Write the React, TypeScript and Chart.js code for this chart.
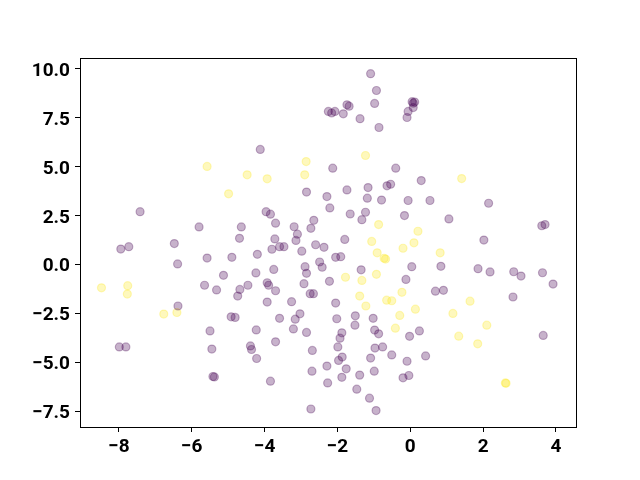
import React, { useEffect, useRef } from "react";
import { Chart, registerables } from "chart.js";

Chart.register(...registerables);

const purpleX = [
  -1.09, -0.93, -0.98, -1.74, -1.68, -2.25, -2.16, -2.07, -1.84, -1.38, -0.86,
  0.05, 0.12, 0.08, 0.08, -0.06, -0.09, -4.12, -2.13, -0.4, -2.85, -2.29,
  -1.74, -1.16, -1.18, -0.79, -0.64, -0.54, -0.06, 0.3, -2.21, -1.65, -1.23,
  -1.33, -0.16, -3.96, -3.84, -3.7, -3.19, -2.65, -2.73, -3.1, -3.72, -3.14,
  -1.8, 0.54, 2.15, 1.06, 3.61, 3.7, 2.02, -7.42, -5.8, -4.64, -4.69, -6.48,
  -7.73, -7.95, -6.39, -5.58, -4.9, -5.13, -5.65, -5.32, -4.68, -4.74, -4.46,
  -6.38, -4.92, -4.81, -5.5, -5.45, -7.99, -7.81, -5.42, -5.38, -4.39, -4.36,
  -2.6, -2.37, -3.8, -3.59, -3.47, -2.98, -4.2, -2.05, -1.91, 0.04, -2.89,
  -2.85, -2.49, -2.42, -3.75, -4.24, -1.35, -2.22, -0.12, -2.92, -3.93, -3.89,
  -3.7, -2.75, -2.66, -3.93, -3.26, -2.05, -3.03, -3.59, -3.16, -2.02, -1.51,
  -1.02, -1.52, -4.23, -3.21, -2.85, -1.88, -1.93, -0.98, -0.87, -0.02, 0.25,
  -3.7, -1.99, -0.97, -0.76, -2.69, -4.22, -1.87, -1.97, -1.09, -0.51, -0.09,
  -1.76, -2.29, -2.7, -0.99, -1.88, -1.39, -0.2, -0.04, -3.84, -2.27, -1.47,
  -1.12, -2.73, -0.94, 0.84, 1.86, 2.19, 2.84, 3.04, 3.63, 3.92, 0.69, 0.91,
  2.82, 3.65, 0.42,
];
const purpleY = [
  9.76, 8.9, 8.24, 8.17, 8.1, 7.83, 7.75, 7.83, 7.71, 7.46, 7.01,
  8.33, 8.31, 8.25, 8.03, 7.83, 7.52, 5.89, 4.93, 4.93, 3.71, 3.48,
  3.82, 3.94, 3.4, 3.3, 4.03, 4.11, 3.28, 4.3, 2.9, 2.59, 2.68,
  2.3, 2.51, 2.71, 2.58, 2.12, 1.94, 2.27, 1.86, 1.56, 1.32, 1.24,
  1.29, 3.28, 3.14, 2.34, 1.99, 2.05, 1.26, 2.71, 1.93, 1.93, 1.35, 1.08,
  0.92, 0.8, 0.04, 0.34, 0.38, -0.54, -1.05, -1.29, -1.26, -1.6, -1.05,
  -2.11, -2.66, -2.69, -3.38, -4.31, -4.2, -4.2, -5.71, -5.73, -4.15, -4.33,
  1.02, 0.89, 0.79, 0.92, 0.92, 0.69, 0.53, 0.38, 0.41, -0.1, -0.1,
  -0.44, 0.14, -0.13, -0.24, -0.42, -0.26, -0.85, -0.75, -0.97, -0.92, -1.05,
  -1.33, -1.48, -1.48, -1.91, -1.89, -1.96, -2.51, -2.74, -2.78, -2.76, -2.61,
  -2.74, -3.09, -3.33, -3.28, -3.46, -3.48, -3.75, -3.34, -3.53, -3.66, -3.38,
  -3.94, -4.2, -4.26, -4.2, -4.38, -4.79, -4.72, -4.89, -4.77, -4.61, -4.93,
  -5.32, -5.18, -5.44, -5.44, -5.75, -5.64, -5.78, -5.66, -5.95, -6.04, -6.36,
  -6.82, -7.37, -7.45, -0.08, -0.2, -0.37, -0.36, -0.58, -0.41, -0.99, -1.35, -1.31,
  -1.65, -3.61, -4.66,
];
const yellowX = [
  -5.58, -4.48, -4.99, -2.86, -1.23, -2.9, -3.93, 1.41, -0.87, -1.06, 0.21,
  0.1, -0.91, -0.72, -0.68, -0.2, 0.82, -1.78, -1.33, -0.93, -1.39, -1.22,
  -0.65, -0.51, -0.23, 0.14, -0.29, -0.41, 1.64, 1.17, 2.1, 1.33, 1.85,
  2.61, 2.63, -8.48, -7.76, -7.77, -6.41, -6.77,
];
const yellowY = [
  5.02, 4.59, 3.62, 5.27, 5.58, 4.59, 4.39, 4.4, 2.05, 1.19, 1.71,
  1.12, 0.61, 0.33, 0.29, 0.84, 0.61, -0.64, -0.8, -0.49, -1.6, -2.11,
  -1.81, -1.84, -1.41, -2.27, -2.59, -3.24, -1.86, -2.49, -3.09, -3.65, -4.04,
  -6.04, -6.06, -1.18, -1.07, -1.5, -2.44, -2.52,
];
const xTicks = [-8, -6, -4, -2, 0, 2, 4];
const yTicks = [-7.5, -5.0, -2.5, 0.0, 2.5, 5.0, 7.5, 10.0];

const toPoints = (xs: number[], ys: number[]) =>
  xs.map((x, i) => ({ x, y: ys[i] }));

const frame = {
  id: "frame",
  afterDraw(chart: any) {
    const { ctx, chartArea: a } = chart;
    ctx.save();
    ctx.strokeStyle = "#000";
    ctx.lineWidth = 1;
    ctx.strokeRect(a.left + 0.5, a.top + 0.5, a.right - a.left, a.bottom - a.top);
    ctx.restore();
  },
};

export default function App() {
  const ref = useRef<HTMLCanvasElement>(null);
  useEffect(() => {
    if (!ref.current) return;
    const font = { family: "Roboto", size: 19, weight: "bold" as const };
    const chart = new Chart(ref.current, {
      type: "scatter",
      data: {
        datasets: [
          {
            data: toPoints(purpleX, purpleY),
            backgroundColor: "rgba(68,1,84,0.3)",
            borderColor: "rgba(68,1,84,0.3)",
            borderWidth: 1.2,
            pointRadius: 4,
          },
          {
            data: toPoints(yellowX, yellowY),
            backgroundColor: "rgba(253,231,37,0.3)",
            borderColor: "rgba(253,231,37,0.3)",
            borderWidth: 1.2,
            pointRadius: 4,
          },
        ],
      },
      options: {
        animation: false,
        responsive: false,
        layout: { padding: { left: 0, top: 58, right: 64, bottom: 0 } },
        plugins: { legend: { display: false }, tooltip: { enabled: false } },
        scales: {
          x: {
            type: "linear",
            min: -9.07,
            max: 4.55,
            afterBuildTicks: (axis: any) => {
              axis.ticks = xTicks.map((v) => ({ value: v }));
            },
            afterFit: (axis: any) => {
              axis.height = 53;
            },
            border: { display: false },
            grid: { drawOnChartArea: false, drawTicks: true, tickLength: 5, color: "#000" },
            ticks: {
              color: "#000",
              font,
              padding: 4,
              maxRotation: 0,
              callback: (v: any) => String(v).replace("-", "\u2212"),
            },
          },
          y: {
            type: "linear",
            min: -8.29,
            max: 10.56,
            afterBuildTicks: (axis: any) => {
              axis.ticks = yTicks.map((v) => ({ value: v }));
            },
            afterFit: (axis: any) => {
              axis.width = 80;
            },
            border: { display: false },
            grid: { drawOnChartArea: false, drawTicks: true, tickLength: 5, color: "#000" },
            ticks: {
              color: "#000",
              font,
              padding: 5,
              labelOffset: 2,
              callback: (v: any) => Number(v).toFixed(1).replace("-", "\u2212"),
            },
          },
        },
      },
      plugins: [frame],
    });
    return () => chart.destroy();
  }, []);
  return (
    <div style={{ position: "fixed", left: 0, top: 0, width: 640, height: 480, background: "#fff" }}>
      <canvas ref={ref} width={640} height={480} />
    </div>
  );
}
